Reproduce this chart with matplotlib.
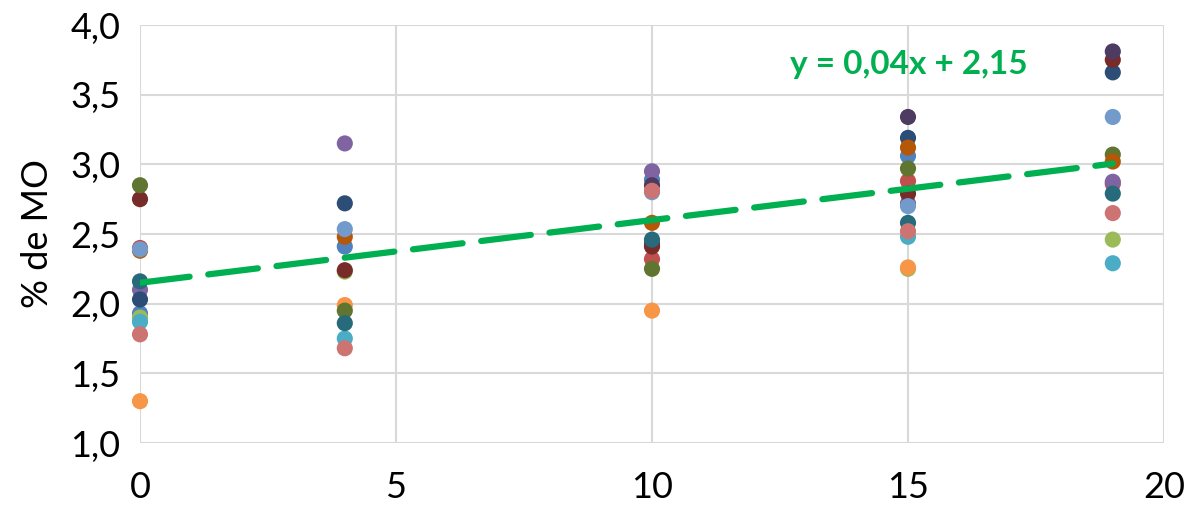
import matplotlib
matplotlib.use("Agg")
import matplotlib.pyplot as plt
import numpy as np

# sampling times (x) and % de MO per series (None = no point)
dias = [0, 4, 10, 15, 19]

serie_azul = [1.93, 2.41, 2.89, 3.06, None]
serie_roja = [2.40, None, 2.32, 2.88, 2.86]
serie_verde = [1.90, 2.23, None, 2.25, 2.46]
serie_morada = [2.10, 3.15, 2.95, 2.72, 2.875]
serie_aqua = [1.87, 1.75, None, 2.48, 2.29]
serie_naranja = [1.30, 1.99, 1.95, 2.26, None]
serie_azul_osc = [2.03, 2.72, 2.43, 3.19, 3.66]
serie_roja_osc = [2.75, 2.24, 2.41, 2.79, 3.75]
serie_oliva = [2.85, 1.95, 2.25, 2.97, 3.07]
serie_morada_osc = [None, None, 2.85, 3.34, 3.81]
serie_teal = [2.16, 1.86, 2.46, 2.58, 2.79]
serie_naranja_osc = [2.38, 2.48, 2.58, 3.12, 3.02]
serie_azul_cl = [2.39, 2.535, 2.80, 2.70, 3.34]
serie_rosa = [1.78, 1.68, 2.81, 2.52, 2.65]

series = [serie_azul, serie_roja, serie_verde, serie_morada, serie_aqua,
          serie_naranja, serie_azul_osc, serie_roja_osc, serie_oliva,
          serie_morada_osc, serie_teal, serie_naranja_osc, serie_azul_cl,
          serie_rosa]
colores = ["#4F81BD", "#C0504D", "#9BBB59", "#8064A2", "#4BACC6", "#F79646",
           "#2C4D75", "#772C2A", "#5F7530", "#4D3B62", "#276A7C", "#B65708",
           "#729ACA", "#CD7371"]

# trendline as shown in the chart (unrounded slope)
pendiente = 0.045
intercepto = 2.15
etiqueta = "y = 0,04x + 2,15"

plt.rcParams['font.family'] = ['Lato', 'DejaVu Sans']

fig = plt.figure(figsize=(11.88, 5.05), dpi=100)
ax = fig.add_axes([140/1188, 1 - 443/505, 1024/1188, 418/505])

for s, c in zip(series, colores):
    xs = [d for d, v in zip(dias, s) if v is not None]
    ys = [v for v in s if v is not None]
    ax.scatter(xs, ys, s=135, color=c, edgecolors='none', zorder=3, clip_on=False)

xl = np.array([dias[0], dias[-1]])
ax.plot(xl, pendiente*xl + intercepto, color="#00B050", lw=4.5, ls=(0, (8, 3)),
        zorder=4, dash_capstyle='round')

ax.text(12.7, 3.72, etiqueta, color="#00B050", fontsize=24, fontweight='bold',
        va='center', ha='left')

ax.set_xlim(0, 20)
ax.set_ylim(1.0, 4.0)
ax.set_xticks([0, 5, 10, 15, 20])
yt = np.arange(1.0, 4.01, 0.5)
ax.set_yticks(yt)
ax.set_yticklabels([f"{v:.1f}".replace('.', ',') for v in yt])
ax.tick_params(length=0, labelsize=26, colors='black')
ax.tick_params(axis='x', pad=20)
ax.tick_params(axis='y', pad=14)
ax.grid(True, color="#D9D9D9", lw=1.5)
ax.set_axisbelow(True)
for sp in ax.spines.values():
    sp.set_visible(False)
ax.set_ylabel("% de MO", fontsize=26, labelpad=12)

fig.savefig("out.png", dpi=100)
